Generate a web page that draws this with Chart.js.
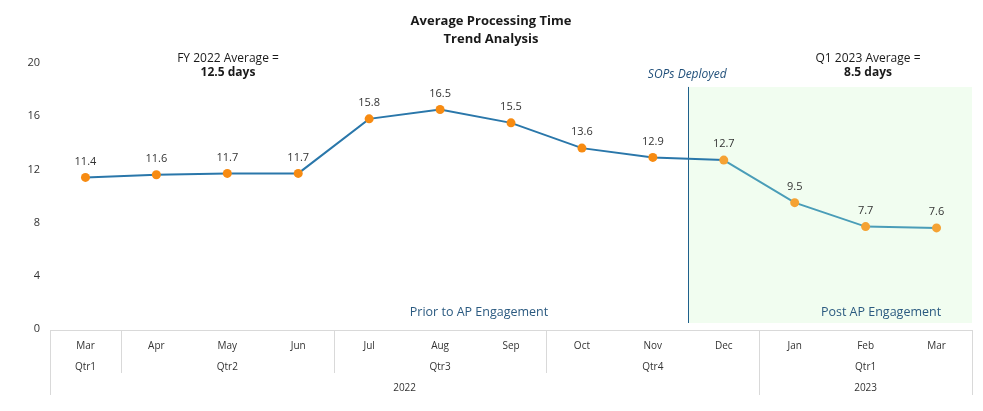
<!DOCTYPE html>
<html>
<head>
<meta charset="utf-8">
<script src="https://cdn.jsdelivr.net/npm/chart.js@4"></script>
<style>
html,body{margin:0;padding:0;background:#fff;}
#wrap{width:983px;height:411px;position:relative;}
</style>
</head>
<body>
<div id="wrap"><canvas id="c" width="983" height="411"></canvas></div>
<script>
const months = ['Mar','Apr','May','Jun','Jul','Aug','Sep','Oct','Nov','Dec','Jan','Feb','Mar'];
const values = [11.4, 11.6, 11.7, 11.7, 15.8, 16.5, 15.5, 13.6, 12.9, 12.7, 9.5, 7.7, 7.6];
const quarters = [
  {label:'Qtr1', start:0, end:0},
  {label:'Qtr2', start:1, end:3},
  {label:'Qtr3', start:4, end:6},
  {label:'Qtr4', start:7, end:9},
  {label:'Qtr1', start:10, end:12}
];
const years = [
  {label:'2022', start:0, end:9},
  {label:'2023', start:10, end:12}
];
const yTicks = [0, 4, 8, 12, 16, 20];
const titleLines = ['Average Processing Time', 'Trend Analysis'];
const sopIndex = 9; // first month after SOPs deployed

const FONT = "'Open Sans', 'Noto Sans', sans-serif";

const overlay = {
  id: 'overlay',
  beforeDatasetsDraw(chart) {
    const ctx = chart.ctx, x = chart.scales.x, y = chart.scales.y, a = chart.chartArea;
    const half = (x.getPixelForValue(1) - x.getPixelForValue(0)) / 2;
    const sx = x.getPixelForValue(sopIndex) - half;
    const top = y.getPixelForValue(18.2);
    const bot = a.bottom - 6;
    ctx.save();
    ctx.fillStyle = '#f1fdf0';
    ctx.fillRect(sx, top, a.right - sx, bot - top);
    ctx.strokeStyle = '#1f5f8b';
    ctx.lineWidth = 1;
    ctx.beginPath();
    ctx.moveTo(Math.round(sx) + 0.5, top);
    ctx.lineTo(Math.round(sx) + 0.5, bot);
    ctx.stroke();
    ctx.restore();
  },
  afterDraw(chart) {
    const ctx = chart.ctx, x = chart.scales.x, y = chart.scales.y, a = chart.chartArea;
    const half = (x.getPixelForValue(1) - x.getPixelForValue(0)) / 2;
    ctx.save();
    // Title
    ctx.textAlign = 'center';
    ctx.textBaseline = 'middle';
    ctx.fillStyle = '#1a1a1a';
    ctx.font = 'bold 13px ' + FONT;
    ctx.fillText(titleLines[0], 491, 21);
    ctx.fillText(titleLines[1], 491, 39);
    // Data labels
    const meta = chart.getDatasetMeta(0);
    ctx.font = '11px ' + FONT;
    ctx.fillStyle = '#333';
    meta.data.forEach((pt, i) => {
      ctx.fillText(values[i].toFixed(1), pt.x, pt.y - 16);
    });
    // Annotations
    ctx.font = '12px ' + FONT;
    ctx.fillStyle = '#1a1a1a';
    ctx.fillText('FY 2022 Average =', 228, 59);
    ctx.fillText('Q1 2023 Average =', 868, 59);
    ctx.font = 'bold 12px ' + FONT;
    ctx.fillText('12.5 days', 228, 73);
    ctx.fillText('8.5 days', 868, 73);
    ctx.font = 'italic 12px ' + FONT;
    ctx.fillStyle = '#1f4e79';
    const sx = x.getPixelForValue(sopIndex) - half;
    ctx.fillText('SOPs Deployed', sx - 1, 75);
    ctx.font = '12.5px ' + FONT;
    ctx.fillStyle = '#2b5a80';
    ctx.fillText('Prior to AP Engagement', 479, 312);
    ctx.fillText('Post AP Engagement', 881, 312);
    // Hierarchical x axis
    const axTop = a.bottom + 1;
    ctx.strokeStyle = '#d9d9d9';
    ctx.lineWidth = 1;
    ctx.beginPath();
    ctx.moveTo(a.left, axTop + 0.5);
    ctx.lineTo(a.right, axTop + 0.5);
    ctx.stroke();
    const edge = i => Math.round(x.getPixelForValue(i) - half) + 0.5;
    quarters.forEach(q => {
      ctx.beginPath();
      ctx.moveTo(edge(q.start), axTop);
      ctx.lineTo(edge(q.start), axTop + 43);
      ctx.stroke();
    });
    years.forEach(yr => {
      ctx.beginPath();
      ctx.moveTo(edge(yr.start), axTop);
      ctx.lineTo(edge(yr.start), axTop + 65);
      ctx.stroke();
    });
    ctx.beginPath();
    ctx.moveTo(edge(months.length), axTop);
    ctx.lineTo(edge(months.length), axTop + 65);
    ctx.stroke();
    ctx.font = '10px ' + FONT;
    ctx.fillStyle = '#333';
    months.forEach((m, i) => ctx.fillText(m, x.getPixelForValue(i), axTop + 16));
    quarters.forEach(q => ctx.fillText(q.label, (x.getPixelForValue(q.start) + x.getPixelForValue(q.end)) / 2, axTop + 37));
    years.forEach(yr => ctx.fillText(yr.label, (x.getPixelForValue(yr.start) + x.getPixelForValue(yr.end)) / 2, axTop + 58));
    ctx.restore();
  }
};

new Chart(document.getElementById('c'), {
  type: 'line',
  data: {
    labels: months,
    datasets: [{
      data: values,
      borderWidth: 2,
      borderColor: '#2a77aa',
      segment: {
        borderColor: c => c.p0DataIndex >= sopIndex ? '#4a9db8' : '#2a77aa'
      },
      pointRadius: 4.5,
      pointHoverRadius: 4.5,
      pointBorderWidth: 0,
      pointBackgroundColor: values.map((v, i) => i >= sopIndex ? '#f5a233' : '#f78b12'),
      tension: 0,
      fill: false
    }]
  },
  options: {
    responsive: false,
    animation: false,
    devicePixelRatio: 1,
    layout: { padding: { top: 63, bottom: 82, right: 11, left: 0 } },
    plugins: { legend: { display: false }, tooltip: { enabled: false }, title: { display: false } },
    scales: {
      x: { type: 'category', offset: true, display: false },
      y: {
        min: 0, max: 20,
        afterFit: s => { s.width = 50; },
        afterBuildTicks: s => { s.ticks = yTicks.map(v => ({ value: v })); },
        grid: { display: false },
        border: { display: false },
        ticks: { color: '#333', font: { size: 11, family: FONT }, padding: 2 }
      }
    }
  },
  plugins: [overlay]
});
</script>
</body>
</html>
